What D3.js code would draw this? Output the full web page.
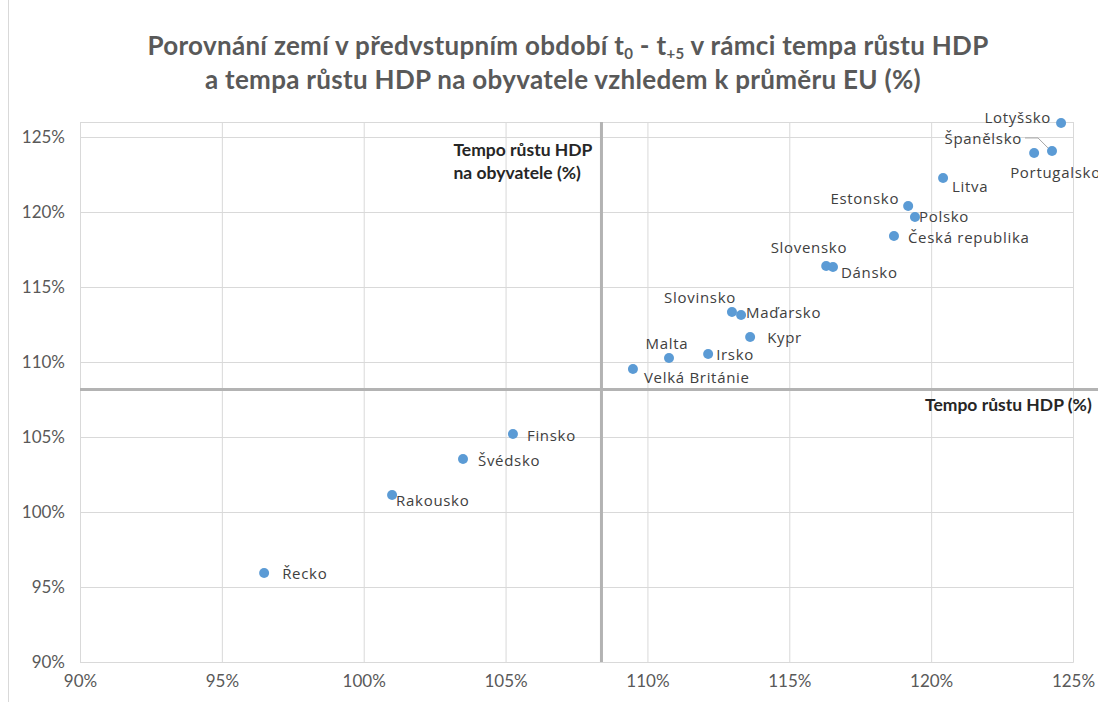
<!DOCTYPE html>
<html>
<head>
<meta charset="utf-8">
<script src="https://cdn.jsdelivr.net/npm/d3@7"></script>
<style>
  body { margin: 0; background: #fff; }
  svg { display: block; }
  .tick text { font-family: Lato, sans-serif; font-size: 17px; fill: #595959; }
</style>
</head>
<body>
<svg width="1098" height="702"></svg>
<script>
// countries and values (x = GDP growth, y = GDP per capita growth, % of EU average)
const countries = ["Lotyšsko", "Španělsko", "Portugalsko", "Litva", "Estonsko", "Polsko",
  "Česká republika", "Slovensko", "Dánsko", "Slovinsko", "Maďarsko", "Kypr", "Irsko",
  "Malta", "Velká Británie", "Finsko", "Švédsko", "Rakousko", "Řecko"];
const gdpGrowth = [124.58, 124.26, 123.63, 120.42, 119.19, 119.43, 118.69, 116.30, 116.54,
  112.98, 113.30, 113.62, 112.14, 110.76, 109.49, 105.26, 103.50, 101.00, 96.49];
const gdpPerCapitaGrowth = [125.93, 124.07, 123.93, 122.27, 120.40, 119.67, 118.40, 116.40, 116.33,
  113.33, 113.13, 111.67, 110.53, 110.27, 109.53, 105.20, 103.53, 101.13, 95.93];
const tickValues = [90, 95, 100, 105, 110, 115, 120, 125];
// EU averages (the crosshair)
const euGdpGrowth = 108.38;
const euPerCapitaGrowth = 108.17;

// label placement: anchor, dx, dy (px from the point)
const labelPlace = {
  "Lotyšsko": ["end", -10, -6],
  "Španělsko": ["end", -30, -13],
  "Portugalsko": ["start", -24, 19],
  "Litva": ["start", 9, 8],
  "Estonsko": ["end", -9, -8],
  "Polsko": ["start", 4, -1],
  "Česká republika": ["start", 14, 1],
  "Slovensko": ["end", 21, -19],
  "Dánsko": ["start", 8, 5],
  "Slovinsko": ["end", 4, -15],
  "Maďarsko": ["start", 5, -3],
  "Kypr": ["start", 17, 0],
  "Irsko": ["start", 8, 0],
  "Malta": ["middle", -2, -15],
  "Velká Británie": ["start", 11, 8],
  "Finsko": ["start", 14, 1],
  "Švédsko": ["start", 15, 1],
  "Rakousko": ["start", 4, 5],
  "Řecko": ["start", 18, 0]
};

const points = countries.map((c, i) => ({ name: c, x: gdpGrowth[i], y: gdpPerCapitaGrowth[i] }));

const svg = d3.select("svg");
const W = 1098, H = 702;
const plotLeft = 80, plotRight = 1073, plotTop = 122, plotBottom = 662;

const x = d3.scaleLinear().domain([90, 125]).range([plotLeft, plotRight]);
const y = d3.scaleLinear().domain([90, 126]).range([plotBottom, plotTop]);

// chart border on the left
svg.append("line")
  .attr("x1", 8.5).attr("x2", 8.5).attr("y1", 0).attr("y2", H)
  .attr("stroke", "#d9d9d9");

// title
const title = svg.append("text")
  .attr("x", 568).attr("y", 55)
  .attr("text-anchor", "middle")
  .style("font-family", "Lato, sans-serif")
  .style("font-weight", "bold")
  .style("font-size", "26px")
  .style("letter-spacing", "0.3px")
  .style("fill", "#595959");
title.append("tspan").text("Porovnání zemí v předvstupním období t");
title.append("tspan").text("0").style("font-size", "15px").attr("dy", 4);
title.append("tspan").text(" - t").attr("dy", -4);
title.append("tspan").text("+5").style("font-size", "15px").attr("dy", 4);
title.append("tspan").text(" v rámci tempa růstu HDP").attr("dy", -4);
svg.append("text")
  .attr("x", 563).attr("y", 89)
  .attr("text-anchor", "middle")
  .style("font-family", "Lato, sans-serif")
  .style("font-weight", "bold")
  .style("font-size", "26px")
  .style("letter-spacing", "0.3px")
  .style("fill", "#595959")
  .text("a tempa růstu HDP na obyvatele vzhledem k průměru EU (%)");

// grid + axes
const xAxis = svg.append("g")
  .attr("transform", `translate(0,${plotBottom})`)
  .call(d3.axisBottom(x).tickValues(tickValues).tickSize(-(plotBottom - plotTop)).tickPadding(13)
    .tickFormat(d => d + "%"));
const yAxis = svg.append("g")
  .attr("transform", `translate(${plotLeft},0)`)
  .call(d3.axisLeft(y).tickValues(tickValues).tickSize(-(plotRight - plotLeft)).tickPadding(15)
    .tickFormat(d => d + "%"));
[xAxis, yAxis].forEach(a => {
  a.select(".domain").attr("stroke", "#d9d9d9");
  a.selectAll(".tick line").attr("stroke", "#d9d9d9");
});

// EU average crosshair
svg.append("line")
  .attr("x1", x(euGdpGrowth)).attr("x2", x(euGdpGrowth))
  .attr("y1", plotTop).attr("y2", plotBottom)
  .attr("stroke", "#b3b3b3").attr("stroke-width", 3);
svg.append("line")
  .attr("x1", plotLeft).attr("x2", W)
  .attr("y1", y(euPerCapitaGrowth)).attr("y2", y(euPerCapitaGrowth))
  .attr("stroke", "#b3b3b3").attr("stroke-width", 3);

// crosshair titles
const axTitle = svg.append("text")
  .attr("x", x(euGdpGrowth) - 148).attr("y", y(125) + 19)
  .style("font-family", "Lato, sans-serif")
  .style("font-weight", "bold")
  .style("font-size", "17.5px")
  .style("fill", "#262626");
axTitle.append("tspan").text("Tempo růstu HDP");
axTitle.append("tspan").attr("x", x(euGdpGrowth) - 148).attr("dy", 23).text("na obyvatele (%)");
svg.append("text")
  .attr("x", 925).attr("y", y(euPerCapitaGrowth) + 22)
  .style("font-family", "Lato, sans-serif")
  .style("font-weight", "bold")
  .style("font-size", "17.5px")
  .style("fill", "#262626")
  .text("Tempo růstu HDP (%)");

// leader line for Španělsko
const sp = points.find(p => p.name === "Španělsko");
svg.append("path")
  .attr("d", `M${x(sp.x) - 27},${y(sp.y) - 13}H${x(sp.x) - 14}L${x(sp.x) - 4},${y(sp.y) - 3}`)
  .attr("fill", "none").attr("stroke", "#a6a6a6");

// points
svg.append("g").selectAll("circle")
  .data(points).enter().append("circle")
  .attr("cx", d => x(d.x))
  .attr("cy", d => y(d.y))
  .attr("r", 5)
  .attr("fill", "#5b9bd5");

// labels
svg.append("g").selectAll("text")
  .data(points).enter().append("text")
  .attr("x", d => x(d.x) + labelPlace[d.name][1])
  .attr("y", d => y(d.y) + labelPlace[d.name][2])
  .attr("text-anchor", d => labelPlace[d.name][0])
  .attr("dominant-baseline", "central")
  .style("font-family", "'Open Sans', sans-serif")
  .style("font-size", "15px")
  .style("letter-spacing", "0.7px")
  .style("fill", "#404040")
  .text(d => d.name);
</script>
</body>
</html>
